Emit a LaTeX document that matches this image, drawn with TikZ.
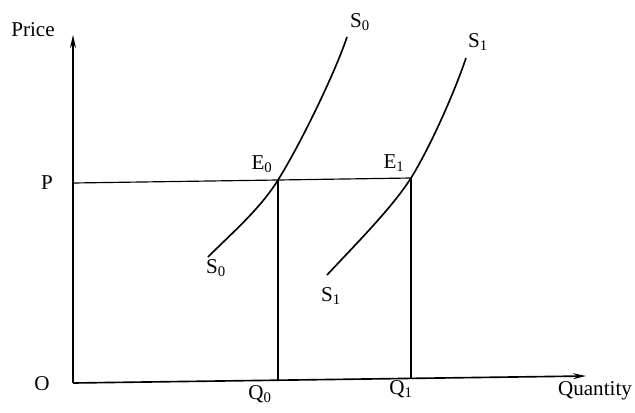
\documentclass[tikz,border=0pt]{standalone}
\usepackage{fontspec}
\setmainfont{Liberation Serif}
\usetikzlibrary{arrows.meta}
\begin{document}
\begin{tikzpicture}[x=0.03cm,y=-0.03cm,
  lbl/.style={inner sep=0pt,font=\fontsize{18}{20}\selectfont},
  axis/.style={line width=1.4pt,-{Stealth[length=11pt,width=5pt]}},
  curve/.style={line width=1.4pt},
  guide/.style={line width=1pt}]
\useasboundingbox (0,0) rectangle (635,412);
% coordinates
\coordinate (O) at (73,383);
\coordinate (Ytop) at (73,35);
\coordinate (Xend) at (586,376);
\coordinate (Pstart) at (73,183);
\coordinate (E0) at (278,180);
\coordinate (E1) at (411,178);
\coordinate (Q0) at (278,380);
\coordinate (Q1) at (411,378);
\coordinate (S0low) at (208,257);
\coordinate (S0top) at (347,37);
\coordinate (S1low) at (327,275);
\coordinate (S1top) at (466,58);
% axes
\draw[axis] (O) -- (Ytop);
\draw[axis] (O) -- (Xend);
% price line and verticals
\draw[guide] (Pstart) -- (E0) -- (E1);
\draw[guide] (E0) -- (Q0);
\draw[guide] (E1) -- (Q1);
% supply curves
\draw[curve] (S0low) .. controls (233,232) and (260,209) .. (E0)
  .. controls (300,145) and (335,73) .. (S0top);
\draw[curve] (S1low) .. controls (354,246) and (392,208) .. (E1)
  .. controls (432,144) and (456,88) .. (S1top);
% labels
\node[lbl] (price) at (33,30) {Price};
\node[lbl] (plab) at (47,183) {P};
\node[lbl] (olab) at (42,384) {O};
\node[lbl] (q0lab) at (260,394) {Q\textsubscript{0}};
\node[lbl] (q1lab) at (401,389) {Q\textsubscript{1}};
\node[lbl] (qty) at (595,391) {Quantity};
\node[lbl] (e0lab) at (262,164) {E\textsubscript{0}};
\node[lbl] (e1lab) at (394,163) {E\textsubscript{1}};
\node[lbl] (s0top) at (360,22) {S\textsubscript{0}};
\node[lbl] (s1top) at (478,42) {S\textsubscript{1}};
\node[lbl] (s0low) at (216,268) {S\textsubscript{0}};
\node[lbl] (s1low) at (331,296) {S\textsubscript{1}};
\end{tikzpicture}
\end{document}
